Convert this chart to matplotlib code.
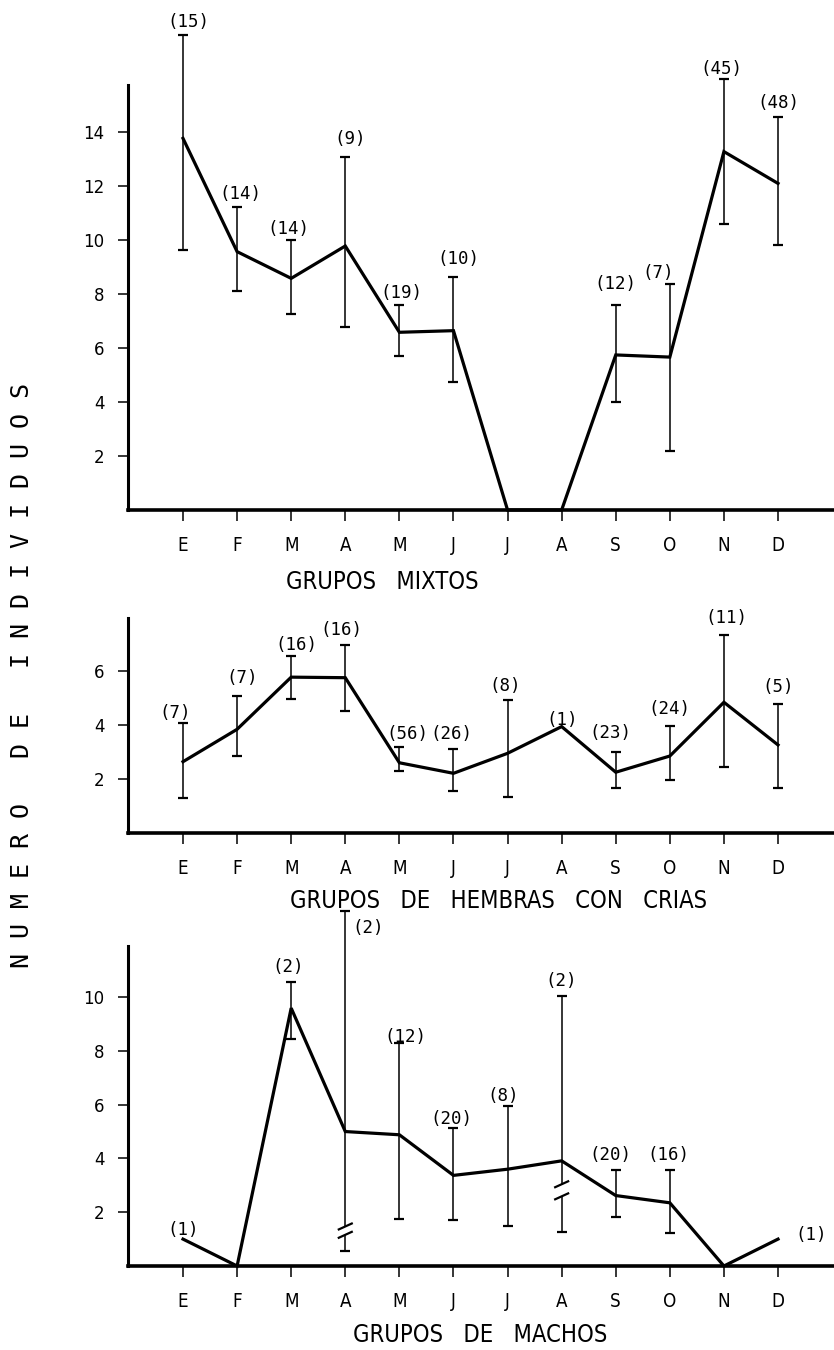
import os
import numpy as np
import matplotlib
matplotlib.use("Agg")
import matplotlib.pyplot as plt
from matplotlib import font_manager as fm

nan = np.nan
months = ['E', 'F', 'M', 'A', 'M', 'J', 'J', 'A', 'S', 'O', 'N', 'D']

mixtos_mean = [13.78, 9.58, 8.59, 9.79, 6.59, 6.65, 0, 0, 5.75, 5.67, 13.29, 12.11]
mixtos_upper = [17.6, 11.25, 10.01, 13.1, 7.6, 8.65, nan, nan, 7.59, 8.37, 16.0, 14.58]
mixtos_lower = [9.64, 8.13, 7.27, 6.79, 5.71, 4.76, nan, nan, 4.0, 2.2, 10.59, 9.83]
mixtos_n = ['(15)', '(14)', '(14)', '(9)', '(19)', '(10)', '', '', '(12)', '(7)', '(45)', '(48)']

hembras_mean = [2.64, 3.84, 5.77, 5.75, 2.6, 2.21, 2.95, 3.94, 2.25, 2.85, 4.84, 3.26]
hembras_upper = [4.09, 5.07, 6.56, 6.95, 3.2, 3.1, 4.93, nan, 3.0, 3.97, 7.34, 4.78]
hembras_lower = [1.28, 2.85, 4.97, 4.53, 2.3, 1.56, 1.32, nan, 1.65, 1.96, 2.46, 1.68]
hembras_n = ['(7)', '(7)', '(16)', '(16)', '(56)', '(26)', '(8)', '(1)', '(23)', '(24)', '(11)', '(5)']

machos_mean = [1.0, 0, 9.59, 5.0, 4.88, 3.37, 3.6, 3.91, 2.62, 2.35, 0, 1.0]
machos_upper = [nan, nan, 10.56, 13.2, 8.28, 5.15, 5.94, 10.03, 3.57, 3.56, nan, nan]
machos_lower = [nan, nan, 8.44, 0.56, 1.76, 1.70, 1.5, 1.28, 1.82, 1.22, nan, nan]
machos_n = ['(1)', '', '(2)', '(2)', '(12)', '(20)', '(8)', '(2)', '(20)', '(16)', '', '(1)']
# broken error bars (axis-break marks on the lower whisker)
machos_break_idx = [3, 7]
machos_break_hi = [1.46, 3.03]
machos_break_lo = [1.15, 2.58]

titles = [['GRUPOS', 'MIXTOS'],
          ['GRUPOS', 'DE', 'HEMBRAS', 'CON', 'CRIAS'],
          ['GRUPOS', 'DE', 'MACHOS']]
ylabel_words = ['NUMERO', 'DE', 'INDIVIDUOS']

# label offsets in pixels (style)
mixtos_off = [(5, 13), (3, 13), (-3, 11), (5, 18), (2, 12), (5, 18), (0, 0), (0, 0),
              (0, 21), (-12, 11), (-3, 10), (0, 14)]
hembras_off = [(-8, 10), (5, 18), (5, 11), (-4, 15), (8, 13), (-2, 15), (-2, 14), (0, 7),
               (-5, 19), (0, 17), (2, 17), (0, 17)]
machos_off = [(0, 9), (0, 0), (-3, 15), (23, -17), (6, 6), (-2, 9), (-4, 10), (-1, 15),
              (-5, 15), (-1, 15), (0, 0), (33, 4)]

# ---- pick a condensed font for titles / month letters
ttf = fm.fontManager.ttflist
names = {f.name for f in ttf}
if 'Liberation Sans Narrow' in names:
    NARROW = dict(fontfamily='Liberation Sans Narrow')
    title_size, month_size, gap = 19, 15, 4
elif any(f.name == 'DejaVu Sans' and 'Condensed' in os.path.basename(f.fname) for f in ttf):
    NARROW = dict(fontfamily='DejaVu Sans', fontstretch='condensed')
    title_size, month_size, gap = 17, 13.5, 3
else:
    NARROW = dict(fontfamily='Liberation Sans')
    title_size, month_size, gap = 16, 13, 3

W, H = 834, 1350
fig = plt.figure(figsize=(W / 100, H / 100), dpi=100)


def rect(top_px, bottom_px):
    return [128 / W, 1 - bottom_px / H, (W - 128) / W, (bottom_px - top_px) / H]


def setup(ax, ymax, yticks):
    x = np.arange(12)
    ax.set_xlim(-1.017, 12.035)
    ax.set_ylim(0, ymax)
    for s in ['top', 'right']:
        ax.spines[s].set_visible(False)
    ax.spines['left'].set_linewidth(2.2)
    ax.spines['bottom'].set_linewidth(2.6)
    ax.set_xticks(x)
    ax.set_xticklabels(months, fontsize=month_size, **NARROW)
    ax.set_yticks(yticks)
    ax.set_yticklabels([str(t) for t in yticks], fontfamily='DejaVu Sans', fontsize=12)
    ax.tick_params(axis='x', direction='out', length=8, width=1.1, pad=11)
    ax.tick_params(axis='y', direction='out', length=7, width=1.1, pad=10)
    ax.patch.set_visible(False)


def draw(ax, mean, upper, lower, labels, offs, skip=()):
    x = np.arange(12)
    mean = np.array(mean, float)
    upper = np.array(upper, float)
    lower = np.array(lower, float)
    ax.plot(x, mean, color='black', lw=2.3, clip_on=False, zorder=3,
            solid_joinstyle='miter')
    ok = ~np.isnan(upper)
    ok[list(skip)] = False
    ax.errorbar(x[ok], mean[ok], yerr=[mean[ok] - lower[ok], upper[ok] - mean[ok]],
                fmt='none', ecolor='black', elinewidth=1.1, capsize=3.4, capthick=1.6,
                clip_on=False, zorder=2)
    for i, lab in enumerate(labels):
        if not lab:
            continue
        top = upper[i] if not np.isnan(upper[i]) else mean[i]
        ax.annotate(lab, xy=(x[i], top), xytext=offs[i], textcoords='offset pixels',
                    ha='center', va='center', fontfamily='DejaVu Sans Mono',
                    fontsize=12.5, annotation_clip=False)


ax1 = fig.add_axes(rect(85, 510))
setup(ax1, 15.76, [2, 4, 6, 8, 10, 12, 14])
draw(ax1, mixtos_mean, mixtos_upper, mixtos_lower, mixtos_n, mixtos_off)

ax2 = fig.add_axes(rect(618, 833))
setup(ax2, 7.96, [2, 4, 6])
draw(ax2, hembras_mean, hembras_upper, hembras_lower, hembras_n, hembras_off)

ax3 = fig.add_axes(rect(946, 1266))
setup(ax3, 11.9, [2, 4, 6, 8, 10])
draw(ax3, machos_mean, machos_upper, machos_lower, machos_n, machos_off,
     skip=machos_break_idx)
# broken error bars
for i, hi, lo in zip(machos_break_idx, machos_break_hi, machos_break_lo):
    up = machos_upper[i]
    low = machos_lower[i]
    ax3.vlines(i, hi, up, color='black', lw=1.1, clip_on=False)
    ax3.vlines(i, low, lo, color='black', lw=1.1, clip_on=False)
    ax3.plot([i, i], [up, low], ls='none', marker='_', ms=6.8, mew=1.6,
             color='black', clip_on=False)
    for yb in (hi, lo):
        ax3.plot([i - 0.12, i + 0.12], [yb - 0.1, yb + 0.12], color='black',
                 lw=1.6, clip_on=False)

# panel titles
sep = ' ' * gap
for words, (cx, cy) in zip(titles, [(382, 582), (499, 901), (480, 1335)]):
    fig.text(cx / W, 1 - cy / H, sep.join(words), ha='center', va='center',
             fontsize=title_size, **NARROW)

# y label (letter-spaced)
ylabel = '   '.join(' '.join(w) for w in ylabel_words)
fig.text(22 / W, 1 - 675 / H, ylabel, rotation=90, ha='center', va='center',
         fontfamily='DejaVu Sans Mono', fontsize=18)

fig.savefig('out.png', dpi=100)
